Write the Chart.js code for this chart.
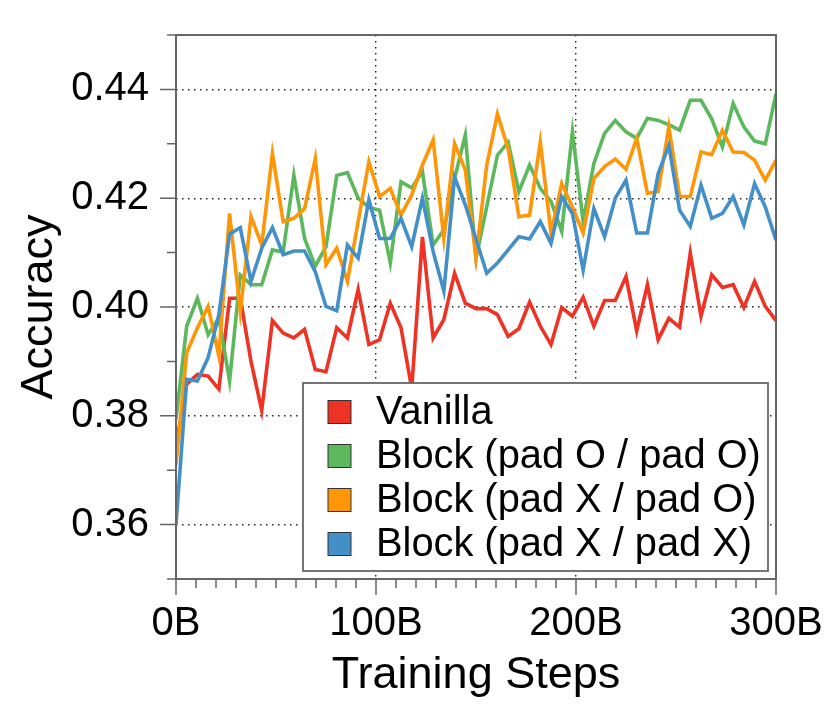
<!DOCTYPE html>
<html><head><meta charset="utf-8">
<script src="https://cdn.jsdelivr.net/npm/chart.js@4.4.1/dist/chart.umd.min.js"></script>
<style>html,body{margin:0;padding:0;background:#fff;} #wrap{width:831px;height:716px;}</style>
</head><body><div id="wrap"><canvas id="c" width="831" height="716"></canvas></div>
<script>
// Training steps (billions of tokens) at each evaluation checkpoint
const steps = [0, 5.36, 10.71, 16.07, 21.43, 26.79, 32.14, 37.5, 42.86, 48.21,
  53.57, 58.93, 64.29, 69.64, 75, 80.36, 85.71, 91.07, 96.43, 101.79,
  107.14, 112.5, 117.86, 123.21, 128.57, 133.93, 139.29, 144.64, 150, 155.36,
  160.71, 166.07, 171.43, 176.79, 182.14, 187.5, 192.86, 198.21, 203.57, 208.93,
  214.29, 219.64, 225, 230.36, 235.71, 241.07, 246.43, 251.79, 257.14, 262.5,
  267.86, 273.21, 278.57, 283.93, 289.29, 294.64, 300];

const vanilla = [0.3745, 0.3858, 0.3876, 0.3873, 0.3849, 0.4016, 0.4016, 0.3900, 0.3810, 0.3975,
  0.3952, 0.3943, 0.3959, 0.3885, 0.3881, 0.3962, 0.3943, 0.4032, 0.3931, 0.3940,
  0.4007, 0.3962, 0.3850, 0.4129, 0.3943, 0.3977, 0.4062, 0.4007, 0.3997, 0.3997,
  0.3986, 0.3946, 0.3960, 0.4009, 0.3965, 0.3931, 0.3999, 0.3983, 0.4018, 0.3965,
  0.4012, 0.4012, 0.4056, 0.3956, 0.4041, 0.3940, 0.3979, 0.3963, 0.4099, 0.3983,
  0.4059, 0.4036, 0.4041, 0.3999, 0.4047, 0.4001, 0.3975];

const blockPadOpadO = [0.3794, 0.3965, 0.4016, 0.3949, 0.3980, 0.3864, 0.4059, 0.4041, 0.4041, 0.4105,
  0.4101, 0.4242, 0.4126, 0.4075, 0.4111, 0.4242, 0.4247, 0.4200, 0.4183, 0.4178,
  0.4081, 0.4230, 0.4219, 0.4249, 0.4114, 0.4142, 0.4236, 0.4316, 0.4090, 0.4184,
  0.4279, 0.4303, 0.4212, 0.4261, 0.4218, 0.4194, 0.4139, 0.4322, 0.4157, 0.4264,
  0.4319, 0.4343, 0.4322, 0.4310, 0.4347, 0.4343, 0.4335, 0.4325, 0.4380, 0.4380,
  0.4346, 0.4294, 0.4374, 0.4331, 0.4305, 0.4300, 0.4392];

const blockPadXpadO = [0.3710, 0.3916, 0.3962, 0.4001, 0.3910, 0.4172, 0.3992, 0.4166, 0.4114, 0.4282,
  0.4157, 0.4163, 0.4181, 0.4273, 0.4078, 0.4108, 0.4047, 0.4157, 0.4267, 0.4203,
  0.4218, 0.4169, 0.4206, 0.4261, 0.4307, 0.4126, 0.4300, 0.4252, 0.4090, 0.4261,
  0.4355, 0.4291, 0.4166, 0.4169, 0.4303, 0.4136, 0.4227, 0.4184, 0.4136, 0.4236,
  0.4258, 0.4272, 0.4253, 0.4310, 0.4209, 0.4212, 0.4331, 0.4203, 0.4203, 0.4285,
  0.4280, 0.4325, 0.4285, 0.4284, 0.4270, 0.4233, 0.4270];

const blockPadXpadX = [0.3601, 0.3867, 0.3864, 0.3907, 0.3986, 0.4134, 0.4146, 0.4047, 0.4108, 0.4146,
  0.4096, 0.4103, 0.4103, 0.4065, 0.4001, 0.3993, 0.4114, 0.4090, 0.4197, 0.4126,
  0.4126, 0.4163, 0.4111, 0.4200, 0.4102, 0.4029, 0.4239, 0.4188, 0.4125, 0.4062,
  0.4081, 0.4105, 0.4129, 0.4125, 0.4157, 0.4117, 0.4203, 0.4172, 0.4068, 0.4181,
  0.4129, 0.4200, 0.4233, 0.4136, 0.4136, 0.4245, 0.4297, 0.4178, 0.4148, 0.4224,
  0.4163, 0.4172, 0.4203, 0.4151, 0.4227, 0.4184, 0.4123];

const seriesNames = ['Vanilla', 'Block (pad O / pad O)', 'Block (pad X / pad O)', 'Block (pad X / pad X)'];
const seriesColors = ['#ee3224', '#5cb85c', '#ff9608', '#4390c9'];

const xTickValues = [0, 100, 200, 300];
const xTickLabels = ['0B', '100B', '200B', '300B'];
const yTickValues = [0.36, 0.38, 0.40, 0.42, 0.44];
const yTickLabels = ['0.36', '0.38', '0.40', '0.42', '0.44'];

const FONT = "'Liberation Sans', Arial, Helvetica, sans-serif";
Chart.defaults.font.family = FONT;

function isMajorX(v) { return xTickValues.some(t => Math.abs(t - v) < 1e-6); }
function isMajorY(v) { return yTickValues.some(t => Math.abs(t - v) < 1e-6); }

const allSeries = [vanilla, blockPadOpadO, blockPadXpadO, blockPadXpadX];
const datasets = allSeries.map((vals, k) => ({
  label: seriesNames[k],
  data: vals.map((y, i) => ({ x: steps[i], y: y })),
  borderColor: seriesColors[k],
  backgroundColor: seriesColors[k],
  borderWidth: 3.6,
  pointRadius: 0,
  tension: 0,
  borderJoinStyle: 'miter',
  borderCapStyle: 'butt',
  fill: false,
  order: 4 - k
}));

const framePlugin = {
  id: 'frameAndLegend',
  afterDatasetsDraw(chart) {
    const ctx = chart.ctx;
    const ca = chart.chartArea;
    const xs = chart.scales.x, ys = chart.scales.y;
    ctx.save();
    // frame
    ctx.strokeStyle = '#666';
    ctx.lineWidth = 2;
    ctx.setLineDash([]);
    ctx.strokeRect(ca.left, ca.top, ca.right - ca.left, ca.bottom - ca.top);
    // ticks
    ctx.lineWidth = 1.5;
    ctx.beginPath();
    ys.ticks.forEach(t => {
      const p = ys.getPixelForValue(t.value);
      const len = isMajorY(t.value) ? 16 : 9;
      ctx.moveTo(ca.left - len, p); ctx.lineTo(ca.left, p);
    });
    xs.ticks.forEach(t => {
      const p = xs.getPixelForValue(t.value);
      const len = isMajorX(t.value) ? 16 : 9;
      ctx.moveTo(p, ca.bottom); ctx.lineTo(p, ca.bottom + len);
    });
    ctx.stroke();
    // legend box
    const bw = 465, bh = 188;
    const bx = ca.right - 8 - bw, by = ca.bottom - 8 - bh;
    ctx.fillStyle = '#fff';
    ctx.fillRect(bx, by, bw, bh);
    ctx.strokeStyle = '#666';
    ctx.lineWidth = 1.8;
    ctx.strokeRect(bx, by, bw, bh);
    ctx.font = '39.8px ' + FONT;
    ctx.textBaseline = 'middle';
    ctx.textAlign = 'left';
    chart.data.datasets.forEach((ds, k) => {
      const cy = by + 29 + k * 44;
      ctx.fillStyle = ds.borderColor;
      ctx.fillRect(bx + 25, cy - 11.5, 23, 23);
      ctx.strokeStyle = '#333';
      ctx.lineWidth = 1;
      ctx.strokeRect(bx + 25, cy - 11.5, 23, 23);
      ctx.fillStyle = '#000';
      ctx.fillText(ds.label, bx + 73, cy + 1);
    });
    ctx.restore();
  }
};

new Chart(document.getElementById('c'), {
  type: 'line',
  data: { datasets },
  options: {
    responsive: false,
    animation: false,
    events: [],
    layout: { padding: { top: 33, right: 55, left: 0, bottom: 0 } },
    plugins: { legend: { display: false }, tooltip: { enabled: false } },
    scales: {
      x: {
        type: 'linear', min: 0, max: 300,
        afterFit(s) { s.height = 137; },
        border: { display: false, dash: [1.5, 4.5] },
        grid: {
          color: c => (c.tick && [100, 200].includes(Math.round(c.tick.value))) ? '#222' : 'rgba(0,0,0,0)',
          lineWidth: 1.4,
          drawTicks: true, tickLength: 16, tickColor: 'rgba(0,0,0,0)'
        },
        ticks: {
          stepSize: 10, autoSkip: false, maxRotation: 0, padding: 5,
          color: '#000', font: { size: 40, family: FONT },
          callback: v => { const i = xTickValues.findIndex(t => Math.abs(t - v) < 1e-6); return i >= 0 ? xTickLabels[i] : ''; }
        },
        title: { display: true, text: 'Training Steps', color: '#000', font: { size: 45, family: FONT }, padding: { top: 0, bottom: 13 } }
      },
      y: {
        type: 'linear', min: 0.35, max: 0.45,
        afterFit(s) { s.width = 176; },
        border: { display: false, dash: [1.5, 4.5] },
        grid: {
          color: c => (c.tick && isMajorY(c.tick.value)) ? '#222' : 'rgba(0,0,0,0)',
          lineWidth: 1.4,
          drawTicks: true, tickLength: 16, tickColor: 'rgba(0,0,0,0)'
        },
        ticks: {
          stepSize: 0.01, autoSkip: false, padding: 11,
          color: '#000', font: { size: 40, family: FONT },
          callback: v => { const i = yTickValues.findIndex(t => Math.abs(t - v) < 1e-6); return i >= 0 ? yTickLabels[i] : ''; }
        },
        title: { display: true, text: 'Accuracy', color: '#000', font: { size: 45, family: FONT }, padding: { top: 13, bottom: 0 } }
      }
    }
  },
  plugins: [framePlugin]
});
</script>
</body></html>
